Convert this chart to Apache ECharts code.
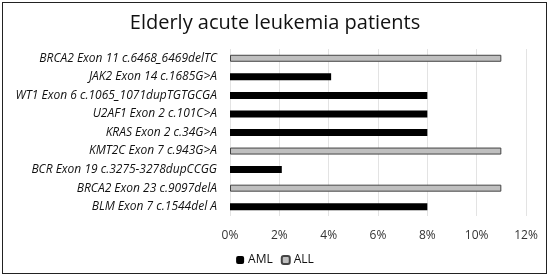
<!DOCTYPE html>
<html>
<head>
<meta charset="utf-8">
<script src="https://cdn.jsdelivr.net/npm/echarts@6/dist/echarts.min.js"></script>
<style>
  html, body { margin: 0; padding: 0; background: #fff; }
  #main { width: 550px; height: 278px; }
  #frame { position: absolute; left: 2px; top: 2px; width: 543px; height: 270px; border: 1.5px solid #222; pointer-events: none; }
</style>
</head>
<body>
<div id="main"></div>
<div id="frame"></div>
<script>
// categories listed bottom to top (as the axis draws them)
const mutations = [
  'BLM Exon 7 c.1544del A',
  'BRCA2 Exon 23 c.9097delA',
  'BCR Exon 19 c.3275-3278dupCCGG',
  'KMT2C Exon 7 c.943G>A',
  'KRAS Exon 2 c.34G>A',
  'U2AF1 Exon 2 c.101C>A',
  'WT1 Exon 6 c.1065_1071dupTGTGCGA',
  'JAK2 Exon 14 c.1685G>A',
  'BRCA2 Exon 11 c.6468_6469delTC'
];
const amlValues = [8, null, 2.1, null, 8, 8, 8, 4.1, null];
const allValues = [null, 11, null, 11, null, null, null, null, 11];
const xTicks = [0, 2, 4, 6, 8, 10, 12];

const chart = echarts.init(document.getElementById('main'));

const font = '"Open Sans", sans-serif';

chart.setOption({
  animation: false,
  title: {
    text: 'Elderly acute leukemia patients',
    left: 'center',
    top: 8,
    textStyle: { fontFamily: font, fontSize: 20, fontWeight: 'normal', color: '#111' }
  },
  legend: {
    bottom: 7,
    left: 'center',
    itemWidth: 8,
    itemHeight: 8,
    itemGap: 8,
    textStyle: { fontFamily: font, fontSize: 12, color: '#111', padding: [0, 0, 0, -1] },
    data: ['AML', 'ALL']
  },
  grid: { left: 230, right: 24, top: 49, bottom: 62 },
  xAxis: {
    type: 'value',
    min: xTicks[0],
    max: xTicks[xTicks.length - 1],
    interval: 2,
    axisLine: { show: false },
    axisTick: { show: false },
    splitLine: { lineStyle: { color: '#e3e3e3' } },
    axisLabel: { fontFamily: font, fontSize: 12, color: '#333', margin: 14, formatter: '{value}%' }
  },
  yAxis: {
    type: 'category',
    data: mutations,
    axisLine: { show: false },
    axisTick: { show: false },
    axisLabel: { fontFamily: font, fontSize: 12, fontStyle: 'italic', color: '#111', margin: 13 }
  },
  series: [
    {
      name: 'AML', type: 'bar', stack: 'x', data: amlValues, barWidth: 7,
      itemStyle: { color: '#000' }
    },
    {
      name: 'ALL', type: 'bar', stack: 'x', data: allValues, barWidth: 7,
      itemStyle: { color: '#bfbfbf', borderColor: '#444', borderWidth: 1 }
    }
  ]
});
</script>
</body>
</html>
